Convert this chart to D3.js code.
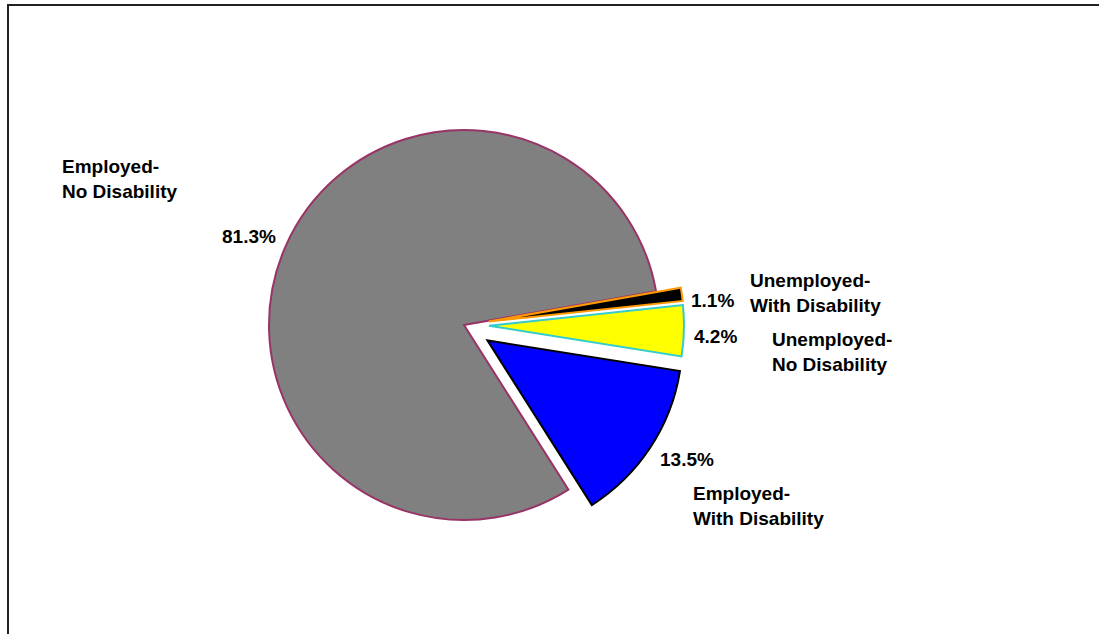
<!DOCTYPE html>
<html>
<head>
<meta charset="utf-8">
<script src="https://cdn.jsdelivr.net/npm/d3@7"></script>
<style>
  body { margin: 0; background: #fff; overflow: hidden; }
  svg { display: block; }
  text { font-family: "Liberation Sans", Arial, sans-serif; font-weight: bold; font-size: 19px; fill: #000; }
</style>
</head>
<body>
<div id="chart"></div>
<script>
// slice order follows the original chart, clockwise from the black slice
const categories = ["Unemployed-|With Disability", "Unemployed-|No Disability", "Employed-|With Disability", "Employed-|No Disability"];
const values = [1.1, 4.2, 13.5, 81.3];
const fills = ["#000000", "#ffff00", "#0000ff", "#808080"];
const strokes = ["#ff9900", "#33cccc", "#000000", "#993366"];
const explode = [25, 25, 28, 0];

const svg = d3.select("#chart").append("svg")
    .attr("width", 1099)
    .attr("height", 634);

// chart frame: only the top and left edges are inside the picture
svg.append("path")
    .attr("d", "M8,640V5H1100")
    .attr("fill", "none")
    .attr("stroke", "#222")
    .attr("stroke-width", 2);

const cx = 464, cy = 325, radius = 195;
const deg = Math.PI / 180;

const pie = d3.pie().sort(null)
    .startAngle(80 * deg)
    .endAngle(440 * deg);

const arc = d3.arc().innerRadius(0).outerRadius(radius);

const arcs = pie(values);

const g = svg.append("g").attr("transform", `translate(${cx},${cy})`);

// gray slice first so the exploded ones sit on top
const drawOrder = [3, 2, 1, 0];
g.selectAll("path")
    .data(drawOrder.map(i => ({a: arcs[i], i: i})))
    .enter()
    .append("path")
    .attr("d", d => arc(d.a))
    .attr("transform", d => {
        const mid = (d.a.startAngle + d.a.endAngle) / 2;
        const off = explode[d.i];
        return `translate(${Math.sin(mid) * off},${-Math.cos(mid) * off})`;
    })
    .attr("fill", d => fills[d.i])
    .attr("stroke", d => strokes[d.i])
    .attr("stroke-width", 2)
    .attr("stroke-linejoin", "miter");

// label placement (percent label and category label per slice)
const pctPos = [[691, 307], [694, 343], [660, 466], [222, 243]];
const catPos = [[750, 287], [772, 346], [693, 500], [62, 173]];

const fmt = d3.format(".1f");
values.forEach((v, i) => {
    svg.append("text")
        .attr("x", pctPos[i][0])
        .attr("y", pctPos[i][1])
        .text(fmt(v) + "%");

    const t = svg.append("text")
        .attr("x", catPos[i][0])
        .attr("y", catPos[i][1]);
    categories[i].split("|").forEach((line, k) => {
        t.append("tspan")
            .attr("x", catPos[i][0])
            .attr("dy", k === 0 ? 0 : 25)
            .text(line);
    });
});
</script>
</body>
</html>
